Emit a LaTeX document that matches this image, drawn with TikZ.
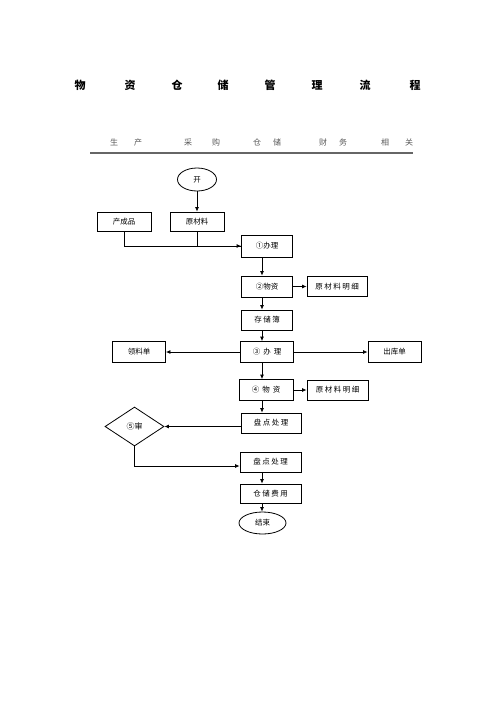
\documentclass[tikz,border=0pt]{standalone}
\usepackage{fontspec}
\newfontfamily\cjk{Noto Sans CJK SC}
\usetikzlibrary{arrows.meta,shapes.geometric}
\begin{document}
\begin{tikzpicture}[x=1pt,y=-1pt,
  box/.style={draw=black,line width=0.8pt,inner sep=0pt,font=\cjk\fontsize{7.5}{8}\selectfont},
  oval/.style={draw=black,line width=0.8pt,ellipse,inner sep=0pt,font=\cjk\fontsize{7.5}{8}\selectfont},
  dia/.style={draw=black,line width=0.8pt,diamond,aspect=1.5,inner sep=0pt,font=\cjk\fontsize{8}{9}\selectfont},
  conn/.style={line width=0.8pt,draw=black},
  arr/.style={conn,-{Latex[length=4.5pt,width=4pt]}},
  ttl/.style={font=\cjk\bfseries\fontsize{11}{12}\selectfont,inner sep=0pt},
  hdr/.style={font=\cjk\fontsize{8}{9}\selectfont,text=black!65,inner sep=0pt}]
\useasboundingbox[fill=white] (0,0) rectangle (496,702);
% title
\foreach \c/\x [count=\i] in {物/80,资/130,仓/177,储/223,管/270,理/317,流/365,程/415}
  \node[ttl] (t\i) at (\x,85) {\c};
% header
\node[hdr] (h1) at (126,142) {生\hspace{16pt}产};
\node[hdr] (h2) at (202,142) {采\hspace{20pt}购};
\node[hdr] (h3) at (267,142) {仓\hspace{12pt}储};
\node[hdr] (h4) at (333,142) {财\hspace{12pt}务};
\node[hdr] (h5) at (397,142) {相\hspace{16pt}关};
\coordinate (l1) at (90,153);
\coordinate (l2) at (413,153);
\draw[line width=1.3pt,draw=black!60] (l1) -- (l2);
% nodes
\node[oval,minimum width=39pt,minimum height=23pt] (start) at (197,179.5) {开};
\node[box,minimum width=54pt,minimum height=19pt] (cp) at (124,221.5) {产成品};
\node[box,minimum width=54pt,minimum height=19pt] (raw) at (197,221.5) {原材料};
\node[box,minimum width=51pt,minimum height=22pt] (in1) at (267,246) {①办理};
\node[box,minimum width=51pt,minimum height=21pt] (mat2) at (267,286.5) {②物资};
\node[box,minimum width=60pt,minimum height=20pt] (det1) at (337,286.5) {原\hspace{1.5pt}材\hspace{1.5pt}料\hspace{1.5pt}明\hspace{1.5pt}细};
\node[box,minimum width=51pt,minimum height=20pt] (store) at (267,320) {存\hspace{1.5pt}储\hspace{1.5pt}簿};
\node[box,minimum width=53pt,minimum height=21pt] (ll) at (139,352) {领料单};
\node[box,minimum width=53pt,minimum height=21pt] (out3) at (267,352) {③\hspace{3pt}办\hspace{3pt}理};
\node[box,minimum width=53pt,minimum height=21pt] (ck) at (394.5,352) {出库单};
\node[box,minimum width=54pt,minimum height=21pt] (mat4) at (266,390) {④\hspace{3pt}物\hspace{3pt}资};
\node[box,minimum width=61pt,minimum height=20pt] (det2) at (337.5,390) {原\hspace{1.5pt}材\hspace{1.5pt}料\hspace{1.5pt}明\hspace{1.5pt}细};
\node[box,minimum width=60pt,minimum height=20pt] (pd1) at (271,423) {盘\hspace{1.5pt}点\hspace{1.5pt}处\hspace{1.5pt}理};
\node[dia,minimum width=59pt,minimum height=39pt] (chk) at (134.5,426.5) {⑤审};
\node[box,minimum width=61pt,minimum height=20pt] (pd2) at (270.5,462) {盘\hspace{1.5pt}点\hspace{1.5pt}处\hspace{1.5pt}理};
\node[box,minimum width=61pt,minimum height=19pt] (fee) at (270.5,493.5) {仓\hspace{1.5pt}储\hspace{1.5pt}费\hspace{1.5pt}用};
\node[oval,minimum width=47pt,minimum height=22pt] (end) at (262.5,523) {结束};
% trunk x
\coordinate (tr) at (262,0);
% connectors
\draw[arr] (start) -- (raw);
\draw[conn] (raw.south) |- (in1.west);
\draw[arr] (cp.south) |- (in1.west);
\draw[arr] (in1.south -| tr) -- (mat2.north -| tr);
\draw[arr] (mat2) -- (det1);
\draw[arr] (mat2.south -| tr) -- (store.north -| tr);
\draw[arr] (store.south -| tr) -- (out3.north -| tr);
\draw[arr] (out3) -- (ll);
\draw[arr] (out3) -- (ck);
\draw[arr] (out3.south -| tr) -- (mat4.north -| tr);
\draw[arr] (mat4) -- (det2);
\draw[arr] (mat4.south -| tr) -- (pd1.north -| tr);
\draw[arr] (pd1.west |- chk.east) -- (chk.east);
\draw[arr] (chk.south) |- ([yshift=-4pt]pd2.west);
\draw[arr] (pd2.south -| tr) -- (fee.north -| tr);
\draw[arr] (fee.south -| tr) -- (end.north -| tr);
\end{tikzpicture}
\end{document}
